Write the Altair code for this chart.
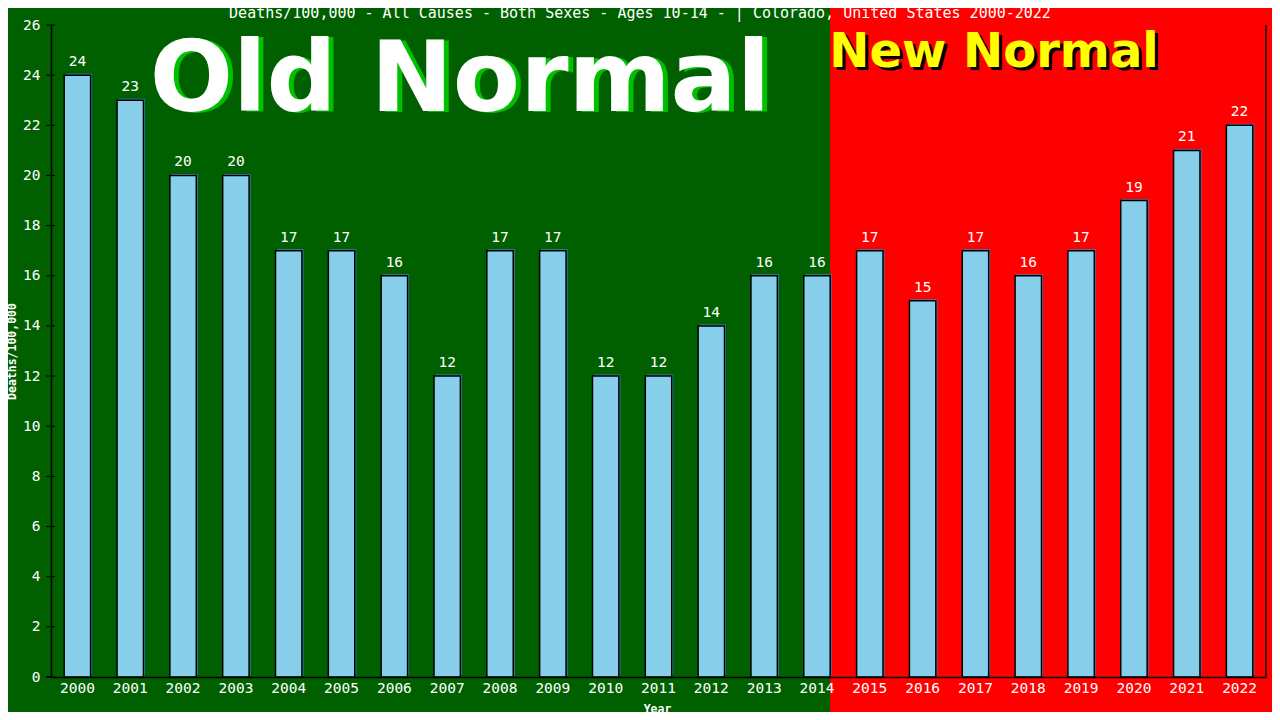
import altair as alt
import pandas as pd

# ---- data ----
years = [str(y) for y in range(2000, 2023)]
deaths = [24, 23, 20, 20, 17, 17, 16, 12, 17, 17, 12, 12, 14, 16, 16,
          17, 15, 17, 16, 17, 19, 21, 22]
y_ticks = list(range(0, 27, 2))
title_text = ("Deaths/100,000 - All Causes - Both Sexes - Ages 10-14 -  | "
              "Colorado, United States 2000-2022")
old_label = ["Old Normal"]
new_label = ["New Normal"]

df = pd.DataFrame({"Year": years, "Deaths": deaths})
ticks_df = pd.DataFrame({"Deaths": y_ticks})
one = pd.DataFrame({"a": [0]})

W, H = 1215, 652
MONO = "DejaVu Sans Mono"
GREEN = "#006000"
RED = "#FF0000"
LBL = 14.5

xenc = alt.X(
    "Year:N", sort=years,
    scale=alt.Scale(paddingInner=0.5, paddingOuter=0.25),
    axis=alt.Axis(
        title="Year", labelAngle=0, ticks=False, tickSize=0, labelPadding=4,
        labelFont=MONO, labelFontSize=LBL, labelColor="white",
        domainColor="black", domainWidth=1.5, zindex=1,
        titleFont=MONO, titleFontSize=11.5, titleFontWeight="bold",
        titleColor="white", titleX=606, titleY=32, titleBaseline="middle",
        titleAlign="center",
    ),
)
yenc = alt.Y(
    "Deaths:Q",
    scale=alt.Scale(domain=[0, 26], nice=False, zero=True),
    axis=alt.Axis(
        values=y_ticks, grid=False, ticks=False, tickSize=0, labelPadding=11,
        labelFont=MONO, labelFontSize=LBL, labelColor="white",
        labelBaseline="middle",
        domainColor="black", domainWidth=1.5, zindex=1,
        title="Deaths/100,000", titleFont=MONO, titleFontSize=11.5,
        titleFontWeight="bold", titleColor="white", titleAngle=270,
        titleX=-39, titleY=326, titleBaseline="middle", titleAlign="center",
    ),
)

bg = alt.Chart(one).mark_rect(color=GREEN).encode(
    x=alt.value(-60), x2=alt.value(779), y=alt.value(-30), y2=alt.value(720)
)

shadow = alt.Chart(df).mark_bar(color="#3C7FBF", xOffset=1.5, yOffset=-1.5).encode(
    x=xenc, y=yenc
)
bars = alt.Chart(df).mark_bar(fill="#87CEEB", stroke="black", strokeWidth=1.5).encode(
    x=xenc, y=yenc
)
labels = alt.Chart(df).mark_text(
    color="white", font=MONO, fontSize=LBL, baseline="bottom", dy=-6
).encode(x=xenc, y=yenc, text="Deaths:Q")

inner_ticks = alt.Chart(ticks_df).mark_rule(color="black", strokeWidth=1).encode(
    y=yenc, x=alt.value(-5), x2=alt.value(4)
)
axis_ext = alt.Chart(one).mark_rule(color="black", strokeWidth=1.5).encode(
    x=alt.value(-5), x2=alt.value(0), y=alt.value(H)
)
right_line = alt.Chart(one).mark_rule(color="black", strokeWidth=1.5).encode(
    x=alt.value(W), y=alt.value(0), y2=alt.value(H)
)

old_df = pd.DataFrame({"t": old_label})
new_df = pd.DataFrame({"t": new_label})
old_sh = alt.Chart(old_df).mark_text(
    font="DejaVu Sans", fontWeight="bold", fontSize=98, color="#00C000",
    align="center", baseline="alphabetic", dx=5, dy=1
).encode(text="t:N", x=alt.value(409), y=alt.value(86))
old_tx = alt.Chart(old_df).mark_text(
    font="DejaVu Sans", fontWeight="bold", fontSize=98, color="white",
    align="center", baseline="alphabetic"
).encode(text="t:N", x=alt.value(409), y=alt.value(86))
new_sh = alt.Chart(new_df).mark_text(
    font="DejaVu Sans", fontWeight="bold", fontSize=48, color="black",
    align="center", baseline="alphabetic", dx=3, dy=3
).encode(text="t:N", x=alt.value(943), y=alt.value(42))
new_tx = alt.Chart(new_df).mark_text(
    font="DejaVu Sans", fontWeight="bold", fontSize=48, color="#FFFF00",
    align="center", baseline="alphabetic"
).encode(text="t:N", x=alt.value(943), y=alt.value(42))

title = alt.Chart(pd.DataFrame({"t": [title_text]})).mark_text(
    font=MONO, fontSize=15, color="white", align="center", baseline="middle"
).encode(text="t:N", x=alt.value(589), y=alt.value(-12))

chart = alt.layer(
    bg, old_sh, old_tx, new_sh, new_tx, shadow, bars, labels,
    inner_ticks, axis_ext, right_line, title
).properties(
    width=W, height=H,
    autosize=alt.AutoSizeParams(type="none"),
    padding={"left": 43, "top": 17, "right": 6, "bottom": 35},
    background=RED,
).configure_view(stroke=None)

chart.save("out.html", embed_options={"renderer": "svg", "actions": False})
